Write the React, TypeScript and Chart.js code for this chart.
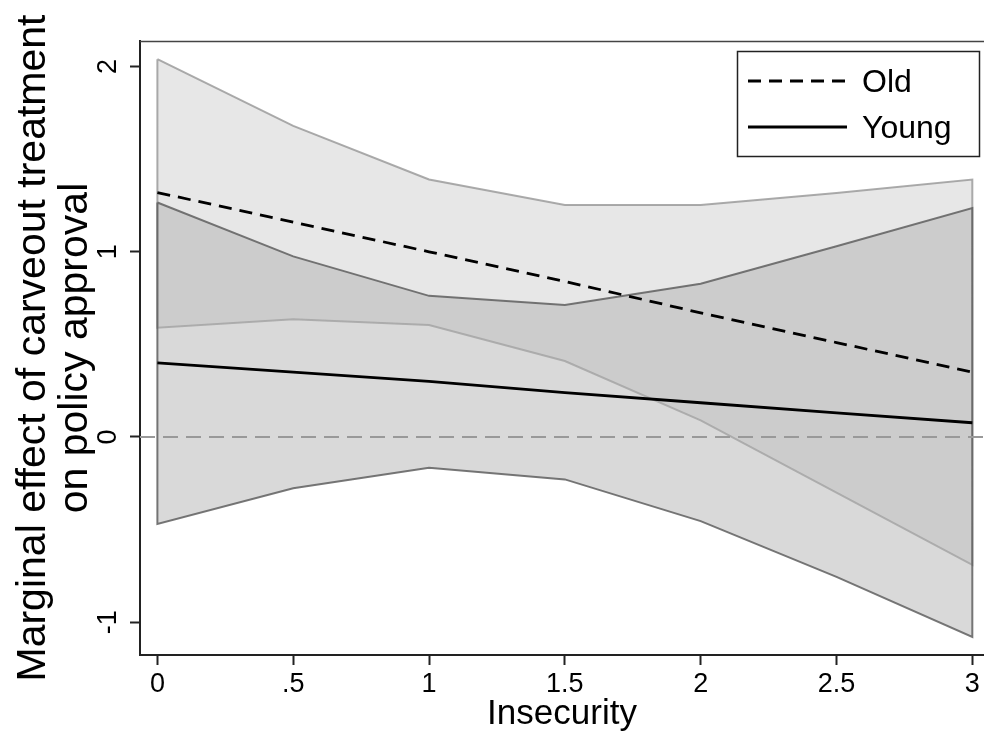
import React, { useEffect, useRef } from "react";
import { Chart, registerables } from "chart.js";

Chart.register(...registerables);

// ---- data ----
const insecurity = [0, 0.5, 1, 1.5, 2, 2.5, 3];
const oldEffect = [1.32, 1.16, 1.0, 0.84, 0.67, 0.51, 0.35];
const youngEffect = [0.4, 0.35, 0.3, 0.24, 0.185, 0.13, 0.077];
const oldUpper = [2.04, 1.68, 1.39, 1.253, 1.253, 1.317, 1.39];
const oldLower = [0.59, 0.636, 0.605, 0.41, 0.09, -0.3, -0.69];
const youngUpper = [1.266, 0.975, 0.762, 0.713, 0.827, 1.03, 1.236];
const youngLower = [-0.47, -0.277, -0.166, -0.229, -0.454, -0.755, -1.079];

const xTickValues = [0, 0.5, 1, 1.5, 2, 2.5, 3];
const xTickLabels = ["0", ".5", "1", "1.5", "2", "2.5", "3"];
const yTickValues = [-1, 0, 1, 2];
const yTickLabels = ["-1", "0", "1", "2"];

const xTitle = "Insecurity";
const yTitleLines = ["Marginal effect of carveout treatment", "on policy approval"];
const seriesNames = ["Old", "Young"];

const X_MIN = -0.064;
const X_MAX = 3.043;
const Y_MIN = -1.177;
const Y_MAX = 2.138;

const FONT = '"Liberation Sans", Arial, Helvetica, sans-serif';
const AXIS_COLOR = "#222";

function bandPolygon(upper: number[], lower: number[]) {
  const top = insecurity.map((x, i) => ({ x, y: upper[i] }));
  const bottom = insecurity.map((x, i) => ({ x, y: lower[i] })).reverse();
  return [...top, ...bottom, { x: insecurity[0], y: upper[0] }];
}

function linePoints(values: number[]) {
  return insecurity.map((x, i) => ({ x, y: values[i] }));
}

const frameTopPlugin = {
  id: "frameTop",
  afterDraw(chart: any) {
    const { ctx, chartArea } = chart;
    ctx.save();
    ctx.strokeStyle = "#444";
    ctx.lineWidth = 1.5;
    ctx.beginPath();
    ctx.moveTo(chartArea.left, chartArea.top + 0.5);
    ctx.lineTo(chartArea.right, chartArea.top + 0.5);
    ctx.stroke();
    ctx.restore();
  },
};

const yTitlePlugin = {
  id: "yTitle",
  afterDraw(chart: any) {
    const { ctx, chartArea } = chart;
    const cy = (chartArea.top + chartArea.bottom) / 2;
    ctx.save();
    ctx.font = `41px ${FONT}`;
    ctx.fillStyle = "#000";
    ctx.textAlign = "center";
    ctx.textBaseline = "alphabetic";
    yTitleLines.forEach((line, i) => {
      ctx.save();
      ctx.translate(45 + i * 42, cy);
      ctx.rotate(-Math.PI / 2);
      ctx.fillText(line, 0, 0);
      ctx.restore();
    });
    ctx.restore();
  },
};

const legendBoxPlugin = {
  id: "legendBox",
  afterDraw(chart: any) {
    const { ctx } = chart;
    const left = 737.5;
    const top = 51.5;
    const w = 242;
    const h = 105;
    ctx.save();
    ctx.fillStyle = "#fff";
    ctx.fillRect(left, top, w, h);
    ctx.strokeStyle = "#222";
    ctx.lineWidth = 1.5;
    ctx.strokeRect(left, top, w, h);
    const rows = [
      { name: seriesNames[0], dash: [13, 8], y: 81 },
      { name: seriesNames[1], dash: [], y: 127 },
    ];
    ctx.font = `32px ${FONT}`;
    ctx.textAlign = "left";
    ctx.textBaseline = "middle";
    rows.forEach((r) => {
      ctx.strokeStyle = "#000";
      ctx.lineWidth = 2.8;
      ctx.setLineDash(r.dash);
      ctx.beginPath();
      ctx.moveTo(748, r.y);
      ctx.lineTo(847, r.y);
      ctx.stroke();
      ctx.setLineDash([]);
      ctx.fillStyle = "#000";
      ctx.fillText(r.name, 862, r.y + 2);
    });
    ctx.restore();
  },
};

export default function App() {
  const ref = useRef<HTMLCanvasElement | null>(null);

  useEffect(() => {
    if (!ref.current) return;
    const chart = new Chart(ref.current, {
      type: "line",
      data: {
        datasets: [
          {
            label: seriesNames[0],
            data: linePoints(oldEffect),
            borderColor: "#000",
            borderWidth: 2.8,
            borderDash: [13, 8],
            pointRadius: 0,
            fill: false,
            order: 0,
          },
          {
            label: seriesNames[1],
            data: linePoints(youngEffect),
            borderColor: "#000",
            borderWidth: 2.8,
            pointRadius: 0,
            fill: false,
            order: 1,
          },
          {
            label: "zero",
            data: [
              { x: X_MIN, y: 0 },
              { x: X_MAX, y: 0 },
            ],
            borderColor: "#999",
            borderWidth: 2,
            borderDash: [15, 8],
            pointRadius: 0,
            fill: false,
            order: 2,
          },
          {
            label: "Young CI",
            data: bandPolygon(youngUpper, youngLower),
            borderColor: "rgba(95,95,95,0.85)",
            backgroundColor: "rgba(175,175,175,0.48)",
            borderWidth: 2,
            pointRadius: 0,
            fill: "shape",
            order: 3,
          },
          {
            label: "Old CI",
            data: bandPolygon(oldUpper, oldLower),
            borderColor: "rgba(150,150,150,0.8)",
            backgroundColor: "rgba(175,175,175,0.3)",
            borderWidth: 2,
            pointRadius: 0,
            fill: "shape",
            order: 4,
          },
        ],
      },
      options: {
        responsive: false,
        animation: false,
        devicePixelRatio: 1,
        layout: { padding: { left: 0, top: 41, right: 0, bottom: 0 } },
        plugins: {
          legend: { display: false },
          tooltip: { enabled: false },
          title: { display: false },
        },
        scales: {
          x: {
            type: "linear",
            min: X_MIN,
            max: X_MAX,
            afterBuildTicks: (s: any) => {
              s.ticks = xTickValues.map((v) => ({ value: v }));
            },
            afterFit: (s: any) => {
              s.height = 85;
            },
            ticks: {
              autoSkip: false,
              minRotation: 0,
              maxRotation: 0,
              padding: 3,
              color: "#000",
              font: { family: FONT, size: 27 },
              callback: (v: any) => {
                const i = xTickValues.indexOf(Number(v));
                return i >= 0 ? xTickLabels[i] : "";
              },
            },
            grid: {
              drawOnChartArea: false,
              drawTicks: true,
              tickLength: 10,
              tickColor: AXIS_COLOR,
              tickWidth: 2,
            },
            border: { display: true, color: AXIS_COLOR, width: 2 },
            title: {
              display: true,
              text: xTitle,
              color: "#000",
              font: { family: FONT, size: 35 },
              padding: { top: 0, bottom: 5 },
            },
          },
          y: {
            type: "linear",
            min: Y_MIN,
            max: Y_MAX,
            afterBuildTicks: (s: any) => {
              s.ticks = yTickValues.map((v) => ({ value: v }));
            },
            afterFit: (s: any) => {
              s.width = 140;
            },
            ticks: {
              autoSkip: false,
              minRotation: 90,
              maxRotation: 90,
              crossAlign: "center",
              padding: 9,
              color: "#000",
              font: { family: FONT, size: 27 },
              callback: (v: any) => {
                const i = yTickValues.indexOf(Number(v));
                return i >= 0 ? yTickLabels[i] : "";
              },
            },
            grid: {
              drawOnChartArea: false,
              drawTicks: true,
              tickLength: 10,
              tickColor: AXIS_COLOR,
              tickWidth: 2,
            },
            border: { display: true, color: AXIS_COLOR, width: 2 },
            title: { display: false },
          },
        },
      },
      plugins: [frameTopPlugin, yTitlePlugin, legendBoxPlugin],
    } as any);
    return () => chart.destroy();
  }, []);

  return (
    <div style={{ position: "absolute", left: 0, top: 0, width: 984, height: 740, background: "#fff" }}>
      <canvas ref={ref} width={984} height={740} style={{ width: 984, height: 740, display: "block" }} />
    </div>
  );
}
